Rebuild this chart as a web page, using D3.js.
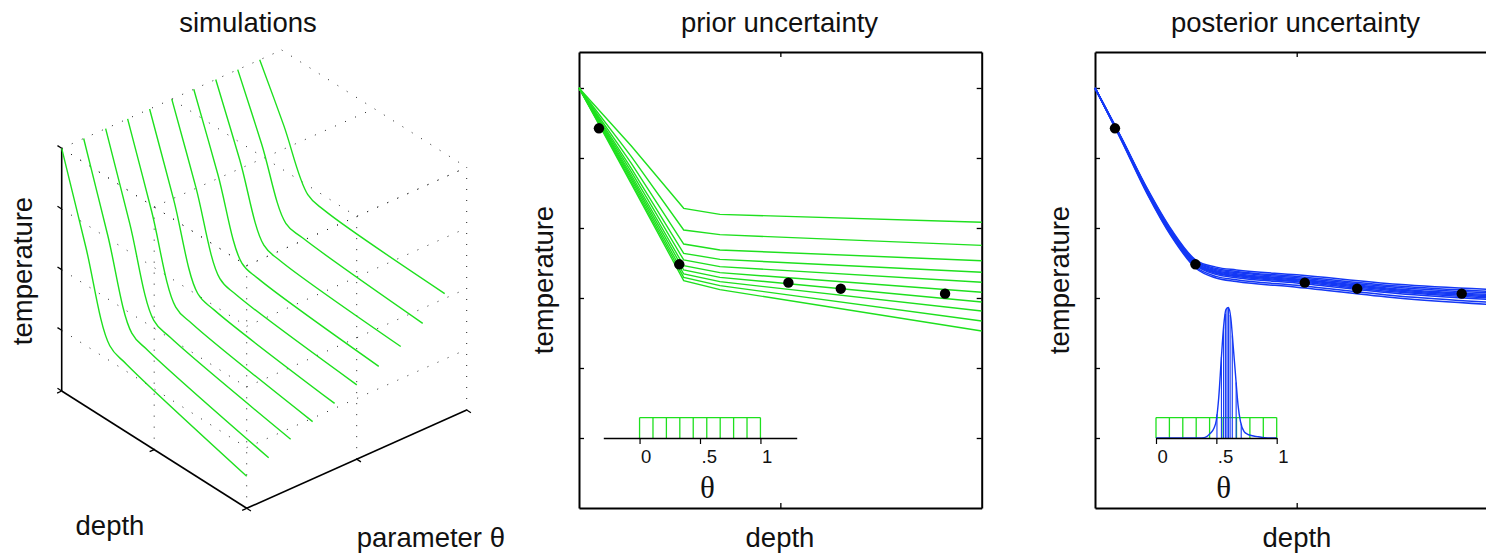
<!DOCTYPE html>
<html>
<head>
<meta charset="utf-8">
<script src="https://cdn.jsdelivr.net/npm/d3@7"></script>
<style>
  body { margin: 0; background: #fff; }
  svg { display: block; font-family: "Liberation Sans", Helvetica, Arial, sans-serif; }
</style>
</head>
<body>
<div id="viz"></div>
<script>
// =====================
// data
// =====================

// theta values of the prior ensemble (one run each)
const thetaSamples = [0, 0.111, 0.222, 0.333, 0.444, 0.556, 0.667, 0.778, 0.889, 1];

// depth grid of the prior runs, temperature per run (same order as thetaSamples)
const priorDepths = [0, 0.26, 0.52, 0.7, 2.0];
const priorRuns = [
    [6.0, 4.629, 3.248, 3.119, 2.529],
    [6.0, 4.657, 3.295, 3.176, 2.671],
    [6.0, 4.690, 3.343, 3.233, 2.814],
    [6.0, 4.724, 3.400, 3.295, 2.943],
    [6.0, 4.757, 3.462, 3.362, 3.081],
    [6.0, 4.800, 3.543, 3.448, 3.224],
    [6.0, 4.852, 3.638, 3.552, 3.367],
    [6.0, 4.924, 3.771, 3.686, 3.533],
    [6.0, 5.019, 3.971, 3.905, 3.752],
    [6.0, 5.171, 4.281, 4.195, 4.081]
];

// field observations
const obsDepth = [0.099, 0.498, 1.040, 1.300, 1.818];
const obsTemp = [5.424, 3.481, 3.219, 3.133, 3.062];

// posterior runs
const postDepths = [0, 0.13, 0.26, 0.38, 0.5, 0.6, 0.7, 1.0, 1.5, 2.0];
const postRuns = [
    [6.0, 5.256, 4.480, 3.873, 3.425, 3.285, 3.235, 3.155, 3.000, 2.900],
    [6.0, 5.262, 4.492, 3.888, 3.443, 3.309, 3.261, 3.182, 3.030, 2.933],
    [6.0, 5.269, 4.506, 3.906, 3.464, 3.337, 3.290, 3.214, 3.065, 2.972],
    [6.0, 5.273, 4.514, 3.916, 3.476, 3.353, 3.307, 3.232, 3.085, 2.994],
    [6.0, 5.276, 4.520, 3.923, 3.485, 3.365, 3.320, 3.245, 3.100, 3.010],
    [6.0, 5.279, 4.526, 3.931, 3.494, 3.377, 3.333, 3.259, 3.115, 3.027],
    [6.0, 5.282, 4.532, 3.938, 3.503, 3.389, 3.346, 3.272, 3.130, 3.043],
    [6.0, 5.286, 4.540, 3.948, 3.515, 3.405, 3.363, 3.290, 3.150, 3.065],
    [6.0, 5.290, 4.548, 3.958, 3.527, 3.421, 3.380, 3.308, 3.170, 3.087],
    [6.0, 5.295, 4.558, 3.971, 3.542, 3.441, 3.401, 3.331, 3.195, 3.115]
];

// posterior density of theta and the posterior samples (stems)
const postTheta = [0, 0.35, 0.40, 0.45, 0.48, 0.50, 0.52, 0.54, 0.56, 0.58, 0.60, 0.62, 0.64, 0.66, 0.68, 0.70, 0.73, 0.76, 0.80, 0.85, 0.90, 1];
const postDensity = [0, 0, 0.02, 0.23, 0.48, 0.88, 2.0, 3.8, 5.45, 6.3, 6.4, 5.87, 4.47, 3.0, 1.6, 0.8, 0.31, 0.18, 0.11, 0.06, 0.02, 0];
const postSamples = [0.505, 0.542, 0.56, 0.575, 0.588, 0.6, 0.614, 0.632, 0.664, 0.706];
const priorDensity = 1;

// ticks
const tempTicks = [1, 2, 3, 4, 5, 6];
const depthTicks = [1];
const thetaTicks = [0, 0.5, 1];
const thetaTickLabels = ["0", ".5", "1"];
const depthTicks3 = [0, 1, 2];
const thetaTicks3 = [0, 5 / 9, 10 / 9];
const tempTicks3 = [2, 3, 4, 5, 6];

// =====================
// layout / style
// =====================
const outerWidth = 1486, outerHeight = 553;
const fs = 27.5;
const green = "#1ee01e", blue = "#1438f5";

const svg = d3.select("#viz").append("svg")
    .attr("width", outerWidth)
    .attr("height", outerHeight);

function label(x, y, txt, opts = {}) {
    const t = svg.append("text")
        .attr("x", x).attr("y", y)
        .attr("font-size", opts.size || fs)
        .attr("text-anchor", opts.anchor || "middle")
        .attr("fill", "#111")
        .text(txt);
    if (opts.rotate) t.attr("transform", `rotate(-90,${x},${y})`);
    return t;
}

// =====================
// 2d panels
// =====================
function panel(p) {
    const x = d3.scaleLinear().domain([0, 2]).range([p.left, p.left + p.width]);
    const y = d3.scaleLinear().domain([0, 6.514]).range([p.top + p.height, p.top]);
    const g = svg.append("g");

    const axes = [
        [d3.axisLeft(y).tickValues(tempTicks), p.left, 0],
        [d3.axisRight(y).tickValues(tempTicks), p.left + p.width, 0],
        [d3.axisTop(x).tickValues(depthTicks), 0, p.top],
        [d3.axisBottom(x).tickValues(depthTicks), 0, p.top + p.height]
    ];
    axes.forEach(([ax, tx, ty]) => {
        const a = g.append("g")
            .attr("transform", `translate(${tx},${ty})`)
            .call(ax.tickSizeInner(-5).tickSizeOuter(0).tickFormat(""));
        a.select(".domain").attr("stroke", "#000").attr("stroke-width", 2);
        a.selectAll(".tick line").attr("stroke", "#000").attr("stroke-width", 1.3);
    });
    return {g, x, y};
}

// inset sits on the temperature = 1 level of its panel
function inset(y, left, right, domain) {
    const ix = d3.scaleLinear().domain(domain).range([left, right]);
    const base = y(1);
    const iy = d3.scaleLinear().domain([0, 1]).range([base, base - 20.4]);
    return {ix, iy, base};
}

function insetAxis(g, ins) {
    const a = g.append("g")
        .attr("transform", `translate(0,${ins.base})`)
        .call(d3.axisBottom(ins.ix).tickValues(thetaTicks).tickSizeInner(6).tickSizeOuter(0)
            .tickFormat((d, i) => thetaTickLabels[i]));
    a.select(".domain").attr("stroke", "#000").attr("stroke-width", 1.3);
    a.selectAll(".tick line").attr("stroke", "#000").attr("stroke-width", 1.2);
    a.selectAll(".tick text")
        .attr("y", 25).attr("dy", null).attr("x", 1)
        .attr("text-anchor", "start")
        .attr("font-size", 18.5)
        .attr("font-family", '"Liberation Sans", Helvetica, Arial, sans-serif')
        .attr("fill", "#111");
    g.append("text")
        .attr("x", ins.ix(0.5)).attr("y", ins.base + 60)
        .attr("font-family", '"Liberation Serif", "Times New Roman", serif')
        .attr("font-size", 31)
        .attr("fill", "#111")
        .text("θ");
}

function priorBox(g, ins) {
    g.append("path")
        .attr("fill", "none").attr("stroke", green).attr("stroke-width", 1.3)
        .attr("d", d3.line()([[ins.ix(0), ins.iy(priorDensity)], [ins.ix(1), ins.iy(priorDensity)]]));
    g.selectAll(".pbar").data(thetaSamples).join("line")
        .attr("class", "pbar")
        .attr("x1", d => ins.ix(d)).attr("x2", d => ins.ix(d))
        .attr("y1", ins.iy(0)).attr("y2", ins.iy(priorDensity))
        .attr("stroke", green).attr("stroke-width", 1.3);
}

function dots(g, x, y) {
    g.selectAll(".obs").data(obsDepth).join("circle")
        .attr("class", "obs")
        .attr("cx", d => x(d))
        .attr("cy", (d, i) => y(obsTemp[i]))
        .attr("r", 5.2)
        .attr("fill", "#000");
}

// ---- prior uncertainty
const P1 = panel({left: 579, top: 52, width: 402.7, height: 456});
const line1 = d3.line()
    .x((d, j) => P1.x(priorDepths[j]))
    .y(d => P1.y(d));
P1.g.selectAll(".prun").data(priorRuns).join("path")
    .attr("class", "prun")
    .attr("fill", "none").attr("stroke", green).attr("stroke-width", 1.4)
    .attr("d", line1);
dots(P1.g, P1.x, P1.y);
const ins1 = inset(P1.y, 603.3, 796.7, [-0.3, 1.3]);
priorBox(P1.g, ins1);
insetAxis(P1.g, ins1);

label(779.5, 32, "prior uncertainty");
label(780, 547, "depth");
label(553, 280, "temperature", {rotate: true});

// ---- posterior uncertainty
const P2 = panel({left: 1095, top: 52, width: 403.4, height: 456});
const line2 = d3.line()
    .curve(d3.curveMonotoneX)
    .x((d, j) => P2.x(postDepths[j]))
    .y(d => P2.y(d));
P2.g.selectAll(".qrun").data(postRuns).join("path")
    .attr("class", "qrun")
    .attr("fill", "none").attr("stroke", blue).attr("stroke-width", 1.5)
    .attr("d", line2);
dots(P2.g, P2.x, P2.y);
const ins2 = inset(P2.y, 1156, 1276.7, [0, 1]);
priorBox(P2.g, ins2);
const densAt = d3.scaleLinear().domain(postTheta).range(postDensity);
P2.g.selectAll(".stem").data(postSamples).join("line")
    .attr("class", "stem")
    .attr("x1", d => ins2.ix(d)).attr("x2", d => ins2.ix(d))
    .attr("y1", ins2.iy(0)).attr("y2", d => ins2.iy(densAt(d)))
    .attr("stroke", blue).attr("stroke-width", 1.1);
P2.g.append("path")
    .datum(postTheta)
    .attr("fill", "none").attr("stroke", blue).attr("stroke-width", 1.4)
    .attr("d", d3.line().curve(d3.curveMonotoneX)
        .x(d => ins2.ix(d))
        .y((d, i) => ins2.iy(postDensity[i])));
insetAxis(P2.g, ins2);

label(1295.5, 32, "posterior uncertainty");
label(1297, 547, "depth");
label(1069, 280, "temperature", {rotate: true});

// =====================
// 3d panel: simulations
// =====================
const cube = {x: 61.7, y: 391, ed: [185, 117.3], eth: [220, -98.3], eT: [0, -242.7]};
const fd = d3.scaleLinear().domain([0, 2]).range([0, 1]);
const fth = d3.scaleLinear().domain([0, 10 / 9]).range([0, 1]);
const fT = d3.scaleLinear().domain([2, 6]).range([0, 1]);

function proj(d, th, T) {
    const a = fd(d), b = fth(th), c = fT(T);
    return [cube.x + a * cube.ed[0] + b * cube.eth[0] + c * cube.eT[0],
            cube.y + a * cube.ed[1] + b * cube.eth[1] + c * cube.eT[1]];
}

const g3 = svg.append("g");
const dMax = 2, thMax = 10 / 9, tMin = 2, tMax = 6;
const grid = [];
// theta = 0 wall
tempTicks3.slice(1).forEach(T => grid.push([proj(0, 0, T), proj(dMax, 0, T)]));
depthTicks3.slice(1).forEach(d => grid.push([proj(d, 0, tMin), proj(d, 0, tMax)]));
// depth = max wall
tempTicks3.slice(1).forEach(T => grid.push([proj(dMax, 0, T), proj(dMax, thMax, T)]));
thetaTicks3.slice(1).forEach(th => grid.push([proj(dMax, th, tMin), proj(dMax, th, tMax)]));
// top plane
thetaTicks3.forEach(th => grid.push([proj(0, th, tMax), proj(dMax, th, tMax)]));
depthTicks3.forEach(d => grid.push([proj(d, 0, tMax), proj(d, thMax, tMax)]));

g3.selectAll(".grid").data(grid).join("path")
    .attr("class", "grid")
    .attr("d", d3.line())
    .attr("fill", "none")
    .attr("stroke", "#222")
    .attr("stroke-width", 1)
    .attr("stroke-dasharray", "1,10");

// solid axes
const axes3 = [
    [proj(0, 0, tMin), proj(0, 0, tMax)],
    [proj(0, 0, tMin), proj(dMax, 0, tMin)],
    [proj(dMax, 0, tMin), proj(dMax, thMax, tMin)]
];
g3.selectAll(".ax3").data(axes3).join("path")
    .attr("class", "ax3")
    .attr("d", d3.line())
    .attr("stroke", "#000").attr("stroke-width", 1.6);

function unit(v) { const l = Math.hypot(v[0], v[1]); return [v[0] / l, v[1] / l]; }
const ud = unit(cube.ed), uth = unit(cube.eth);
const tk = 5;
const ticks3 = []
    .concat(tempTicks3.map(T => { const p = proj(0, 0, T); return [p, [p[0] - ud[0] * tk, p[1] - ud[1] * tk]]; }))
    .concat(depthTicks3.map(d => { const p = proj(d, 0, tMin); return [p, [p[0] - uth[0] * tk, p[1] - uth[1] * tk]]; }))
    .concat(thetaTicks3.map(th => { const p = proj(dMax, th, tMin); return [p, [p[0] + ud[0] * tk, p[1] + ud[1] * tk]]; }));
g3.selectAll(".tk3").data(ticks3).join("path")
    .attr("class", "tk3")
    .attr("d", d3.line())
    .attr("stroke", "#000").attr("stroke-width", 1.3);

// simulation curves
const line3 = d3.line().curve(d3.curveCatmullRom.alpha(0.5));
g3.selectAll(".sim").data(priorRuns).join("path")
    .attr("class", "sim")
    .attr("fill", "none").attr("stroke", green).attr("stroke-width", 1.4)
    .attr("d", (run, i) => line3(run.map((T, j) => proj(priorDepths[j], thetaSamples[i], T))));

label(248, 32, "simulations");
label(32, 271, "temperature", {rotate: true});
label(110, 535, "depth");
label(356.7, 547, "parameter θ", {anchor: "start"});
</script>
</body>
</html>
